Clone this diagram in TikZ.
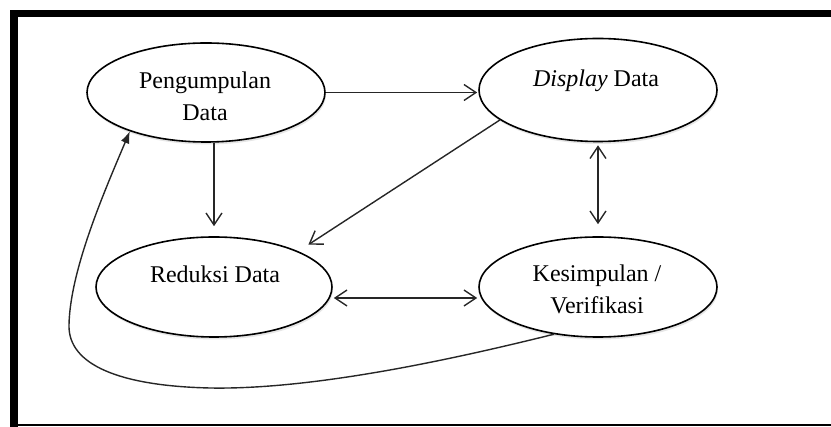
\documentclass[tikz,border=0pt]{standalone}
\usepackage{fontspec}
\setmainfont{Liberation Serif}
\usetikzlibrary{arrows.meta,shapes.geometric,shadows}
\tikzset{openhead/.tip={Straight Barb[length=12pt,width=16pt,line width=1.4pt]}}
\begin{document}
\begin{tikzpicture}[x=1pt,y=-1pt,
  ell/.style={ellipse,draw,line width=1.6pt,fill=white,inner sep=0pt,
    drop shadow={opacity=0.2,shadow xshift=1pt,shadow yshift=-2.5pt}},
  lbl/.style={font=\fontsize{24}{32}\selectfont,align=center,anchor=base,inner sep=0pt},
  conn/.style={line width=1.4pt,draw=black!85}]
\useasboundingbox (0,0) rectangle (831,427);
% frame
\fill (10,10) rectangle (831,17.5);
\fill (10,10) rectangle (18,427);
\fill (10,424) rectangle (831,426.5);
% ellipses
\node[ell,minimum width=238pt,minimum height=99pt] (pd) at (206,92.5) {};
\node[ell,minimum width=238pt,minimum height=103pt] (dd) at (598,90) {};
\node[ell,minimum width=236pt,minimum height=100pt] (rd) at (214,287) {};
\node[ell,minimum width=238pt,minimum height=100pt] (ks) at (598,287) {};
% texts (multi-line nodes: base = baseline of last line)
\node[lbl] (tpd) at (205,121) {Pengumpulan\\Data};
\node[lbl] (tdd) at (596,87) {\textit{Display} Data};
\node[lbl] (trd) at (215,283) {Reduksi Data};
\node[lbl] (tks) at (597,314) {Kesimpulan /\\Verifikasi};
% connectors
\draw[conn,-{openhead},shorten >=10pt] (pd.south -| rd.north) -- (rd.north);
\draw[conn,-{openhead},shorten >=1pt] (pd.east) -- (pd.east -| dd.west);
\draw[conn,-{openhead},shorten >=12pt] (dd.197) -- (rd.23);
\draw[conn,{openhead}-{openhead},shorten <=3pt,shorten >=12pt] (dd.south) -- (ks.north);
\draw[conn,{openhead}-{openhead},shorten <=1pt,shorten >=1pt] ([yshift=-11pt]rd.east) -- ([yshift=-11pt]ks.west);
\draw[conn,-{Latex[length=12pt,width=9pt]}] (ks.227) .. controls (470,355) and (320,390) .. (210,388)
  .. controls (120,386) and (68,365) .. (69,325)
  .. controls (70,270) and (105,190) .. (pd.207);
\end{tikzpicture}
\end{document}
